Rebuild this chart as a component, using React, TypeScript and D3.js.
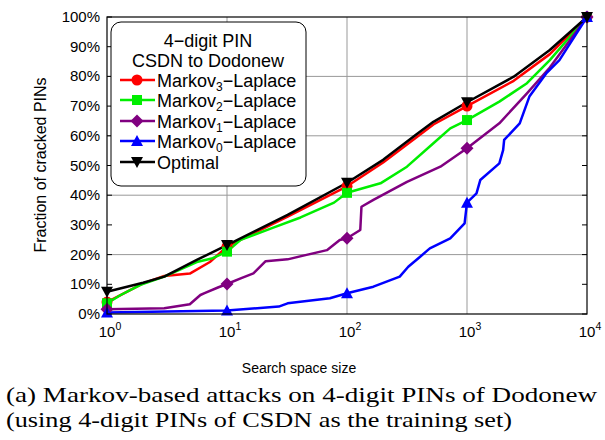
import * as d3 from 'd3';

// search space size vs fraction of cracked PINs (%)
const optimal: [number, number][] = [
  [1, 7.5], [2, 10.5], [3, 12.6], [5.6, 18.2], [10, 23.2], [32, 33.4], [100, 44.2],
  [200, 51.9], [380, 60.5], [525, 64.7], [1000, 71.3], [2450, 79.9], [4900, 88.9], [10000, 100],
];
const markov3: [number, number][] = [
  [1, 4], [2, 10.3], [3, 12.8], [4.9, 13.6], [7.2, 17.5], [10, 22.7], [32, 32.8], [100, 43],
  [200, 51], [380, 59.5], [525, 63.8], [1000, 70], [2450, 78.5], [4900, 87.5], [10000, 100],
];
const markov2: [number, number][] = [
  [1, 3.6], [1.3, 6.4], [1.9, 9.8], [3, 12.6], [5.6, 17.5], [7.6, 18.8], [10, 21], [13, 25],
  [24, 29], [41, 32.5], [78, 37.5], [100, 40.8], [190, 44], [316, 49.6], [525, 57.5],
  [725, 62.5], [1000, 65.3], [1860, 71.5], [3160, 77.7], [4900, 85.5], [10000, 100],
];
const markov1: [number, number][] = [
  [1, 1.6], [3, 1.9], [4.9, 3.3], [6, 6.4], [6.5, 7], [8.5, 9], [10, 10.1], [13, 12],
  [16.6, 13.7], [21, 17.8], [32, 18.4], [46, 19.9], [68, 21.5], [87, 24.9], [100, 25.5],
  [129, 28.3], [132, 36.1], [166, 38.4], [316, 44.5], [600, 49.6], [1000, 55.8],
  [1860, 64.2], [3160, 74.3], [4900, 83], [10000, 100],
];
const markov0: [number, number][] = [
  [1, 0.5], [10, 1.2], [27, 2.5], [32, 3.6], [72, 5.3], [100, 7], [166, 9.2], [275, 12.6],
  [324, 15.9], [407, 19.3], [490, 22.1], [725, 25.5], [955, 30.5], [1000, 37.5], [1200, 40.6],
  [1290, 45.1], [1860, 50.7], [2000, 55.2], [2040, 58.6], [2750, 64.2], [3310, 73.2],
  [4570, 81], [5890, 85.5], [10000, 100],
];

const seriesNames = ['Markov3', 'Markov2', 'Markov1', 'Markov0', 'Optimal'];
const xTicks = [1, 10, 100, 1000, 10000];
const yTicks = [0, 10, 20, 30, 40, 50, 60, 70, 80, 90, 100];
const yGrid = [20, 40, 60, 80];

const series = [
  { name: seriesNames[0], sub: '3', data: markov3, color: '#ff0000', marker: 'circle' },
  { name: seriesNames[1], sub: '2', data: markov2, color: '#00ee00', marker: 'square' },
  { name: seriesNames[2], sub: '1', data: markov1, color: '#800080', marker: 'diamond' },
  { name: seriesNames[3], sub: '0', data: markov0, color: '#0000ff', marker: 'triangle' },
  { name: seriesNames[4], sub: '', data: optimal, color: '#000000', marker: 'triangleDown' },
];

const W = 605;
const H = 440;
const L = 107;
const R = 587;
const T = 17;
const B = 314;

const x = d3.scaleLog().domain([1, 10000]).range([L, R]);
const y = d3.scaleLinear().domain([0, 100]).range([B, T]);

const line = d3.line<[number, number]>().x((d) => x(d[0])).y((d) => y(d[1]));

function Marker({ kind, cx, cy, color }: { kind: string; cx: number; cy: number; color: string }) {
  if (kind === 'circle') return <circle cx={cx} cy={cy} r={5.5} fill={color} />;
  if (kind === 'square') return <rect x={cx - 5} y={cy - 5} width={10} height={10} fill={color} />;
  if (kind === 'diamond')
    return <path d={`M${cx},${cy - 6.5}L${cx + 6.5},${cy}L${cx},${cy + 6.5}L${cx - 6.5},${cy}Z`} fill={color} />;
  if (kind === 'triangle')
    return <path d={`M${cx},${cy - 6}L${cx + 6},${cy + 5}L${cx - 6},${cy + 5}Z`} fill={color} />;
  return <path d={`M${cx},${cy + 6}L${cx + 6},${cy - 5}L${cx - 6},${cy - 5}Z`} fill={color} />;
}

export default function App() {
  const sans = 'Liberation Sans, Arial, sans-serif';
  const legendY = [80, 100, 121, 141, 162];
  return (
    <svg width={W} height={H} style={{ position: 'absolute', left: 0, top: 0, background: '#fff' }}>
      <rect width={W} height={H} fill="#fff" />
      {/* grid */}
      {xTicks.slice(1, -1).map((t) => (
        <line key={'gx' + t} x1={x(t)} x2={x(t)} y1={T} y2={B} stroke="#999" strokeWidth={1} />
      ))}
      {yGrid.map((t) => (
        <line key={'gy' + t} x1={L} x2={R} y1={y(t)} y2={y(t)} stroke="#999" strokeWidth={1} />
      ))}
      {/* ticks */}
      {yTicks.map((t) => (
        <g key={'yt' + t}>
          <line x1={L} x2={L + 5} y1={y(t)} y2={y(t)} stroke="#000" />
          <line x1={R} x2={R - 5} y1={y(t)} y2={y(t)} stroke="#000" />
          <text x={100} y={y(t) + 5} textAnchor="end" fontFamily={sans} fontSize={15}>
            {t}%
          </text>
        </g>
      ))}
      {xTicks.map((t) => (
        <text key={'xt' + t} x={x(t) + 3} y={337} textAnchor="middle" fontFamily={sans} fontSize={15}>
          10<tspan dy={-7} fontSize={10.5}>{Math.round(Math.log10(t))}</tspan>
        </text>
      ))}
      {/* series */}
      {series.map((s) => (
        <path key={s.name} d={line(s.data) ?? ''} fill="none" stroke={s.color} strokeWidth={2.5} strokeLinejoin="round" />
      ))}
      {series.map((s) =>
        s.data
          .filter((d) => xTicks.includes(d[0]))
          .map((d) => <Marker key={s.name + d[0]} kind={s.marker} cx={x(d[0])} cy={y(d[1])} color={s.color} />)
      )}
      {/* frame */}
      <rect x={L} y={T} width={R - L} height={B - T} fill="none" stroke="#000" strokeWidth={1.2} />
      {/* legend */}
      <rect x={111} y={22} width={195} height={164} rx={10} ry={10} fill="#fff" stroke="#000" strokeWidth={1} />
      <text x={208} y={47} textAnchor="middle" fontFamily={sans} fontSize={18}>4−digit PIN</text>
      <text x={208} y={67} textAnchor="middle" fontFamily={sans} fontSize={18}>CSDN to Dodonew</text>
      {series.map((s, i) => (
        <g key={'lg' + s.name}>
          <line x1={120} x2={155} y1={legendY[i]} y2={legendY[i]} stroke={s.color} strokeWidth={2.5} />
          <Marker kind={s.marker} cx={137} cy={legendY[i]} color={s.color} />
          <text x={157} y={legendY[i] + 6.5} fontFamily={sans} fontSize={18}>
            {s.sub ? (
              <>
                Markov<tspan dy={4} fontSize={12}>{s.sub}</tspan>
                <tspan dy={-4}>−Laplace</tspan>
              </>
            ) : (
              s.name
            )}
          </text>
        </g>
      ))}
      {/* axis labels */}
      <text x={299} y={373} textAnchor="middle" fontFamily={sans} fontSize={14}>Search space size</text>
      <text transform="translate(46,165) rotate(-90)" textAnchor="middle" fontFamily={sans} fontSize={16}>
        Fraction of cracked PINs
      </text>
      {/* caption */}
      <text x={6} y={402} fontFamily="Liberation Serif, serif" fontSize={22} textLength={591} lengthAdjust="spacingAndGlyphs">
        (a) Markov-based attacks on 4-digit PINs of Dodonew
      </text>
      <text x={6} y={427} fontFamily="Liberation Serif, serif" fontSize={22} textLength={506} lengthAdjust="spacingAndGlyphs">
        (using 4-digit PINs of CSDN as the training set)
      </text>
    </svg>
  );
}
